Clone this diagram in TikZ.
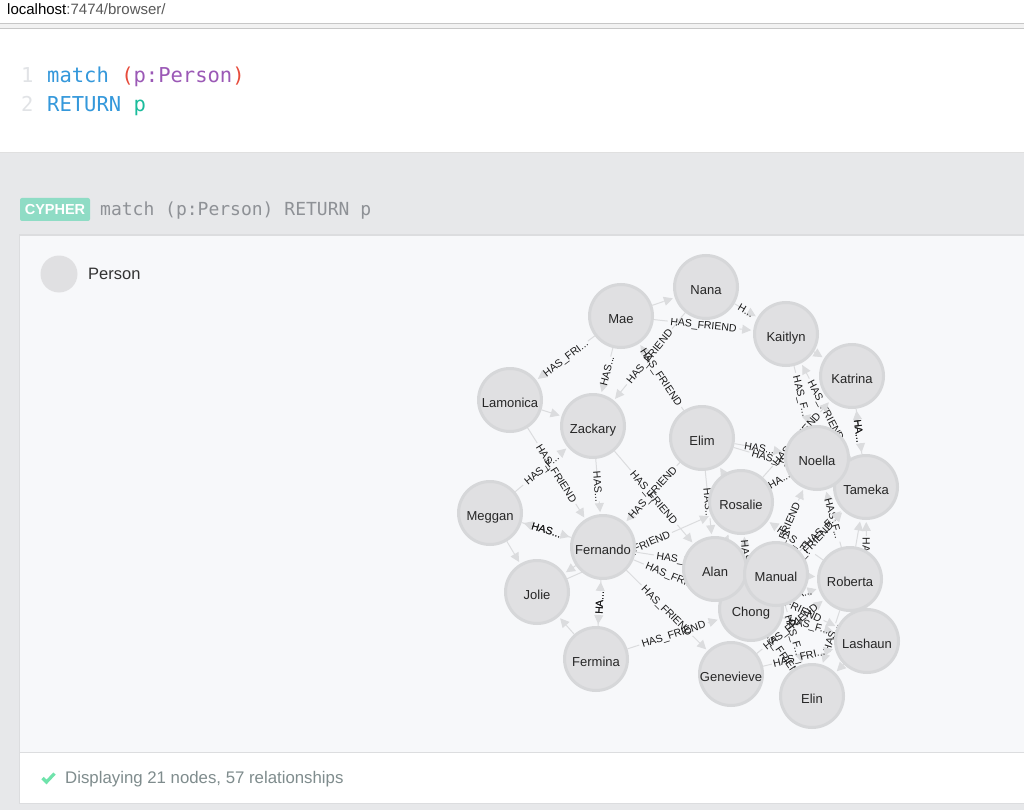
\documentclass[tikz,border=0pt]{standalone}
\usepackage{fontspec}
\setmainfont{Liberation Sans}
\newfontfamily\codefont{DejaVu Sans Mono}
\usetikzlibrary{arrows.meta,backgrounds,calc}

\definecolor{pagegrey}{HTML}{E7E8EA}
\definecolor{panelbg}{HTML}{F7F8FA}
\definecolor{rimgrey}{HTML}{DCDDDF}
\definecolor{personfill}{HTML}{E0E0E2}
\definecolor{personrim}{HTML}{D6D7D9}
\definecolor{relgrey}{HTML}{DBDCDE}
\definecolor{kwblue}{HTML}{3498DB}
\definecolor{kwred}{HTML}{E74C3C}
\definecolor{kwpurple}{HTML}{9B59B6}
\definecolor{kwteal}{HTML}{1ABC9C}
\definecolor{linenum}{HTML}{E1E3E6}
\definecolor{cyphergreen}{HTML}{8FDCC5}
\definecolor{cyphertext}{HTML}{8E9196}
\definecolor{footertext}{HTML}{7F8C8D}
\definecolor{checkgreen}{HTML}{6FE3AB}

\tikzset{
  person/.style={circle, draw=personrim, fill=personfill, line width=3pt, minimum size=63pt,
    inner sep=0pt, text=black!85, font=\fontsize{13}{15}\selectfont},
  relline/.style={draw=relgrey, line width=1pt},
  relarrow/.style={relline, -{Triangle[length=9pt,width=9pt]}, shorten >=2pt},
  rellabel/.style={sloped, inner sep=0pt, text height=7.5pt, text depth=0pt, text=black!90,
    font=\fontsize{10.5}{12}\selectfont},
  codeline/.style={anchor=base west, inner sep=0pt, font=\codefont\fontsize{20.5}{24}\selectfont},
  uitext/.style={anchor=base west, inner sep=0pt}
}

\newcommand{\relfull}{HAS\_FRIEND}
\newcommand{\relfri}{HAS\_FRI...}
\newcommand{\relf}{HAS\_F...}
\newcommand{\relhas}{HAS...}
\newcommand{\relha}{HA...}
\newcommand{\relh}{H...}

\begin{document}
\begin{tikzpicture}[x=1pt,y=-1pt]
  \useasboundingbox (0,0) rectangle (1024,810);

  % Seite
  \begin{scope}[on background layer]
    \fill[pagegrey] (0,0) rectangle (1024,810);
    \fill[white] (0,0) rectangle (1024,23);
    \fill[black!5] (0,23) rectangle (1024,28);
    \fill[white] (0,29) rectangle (1024,152);
    \draw[black!22, line width=0.8pt] (0,23.5) -- (1024,23.5);
    \draw[black!22, line width=0.8pt] (0,28.5) -- (1024,28.5);
    \draw[black!12, line width=1.5pt] (0,152.5) -- (1024,152.5);
    \fill[rimgrey] (19,234) rectangle (1024,804);
    \fill[panelbg] (20,236) rectangle (1024,752);
    \fill[white] (20,753) rectangle (1024,803);
    \fill[cyphergreen, rounded corners=2pt] (20,198) rectangle (90,221);
    \fill[personfill] (59,274) circle (18.5);
    \draw[checkgreen, line width=3.2pt] (42.5,778) -- (46.5,782) -- (54.5,773.5);
  \end{scope}

  \node[uitext, font=\fontsize{15}{18}\selectfont] (urltext) at (7,15) {localhost\textcolor{black!65}{:7474/browser/}};
  \node[codeline, text=linenum] (numone) at (21,83) {1};
  \node[codeline, text=linenum] (numtwo) at (21,112) {2};
  \node[codeline] (queryone) at (47,83) {\textcolor{kwblue}{match} \textcolor{kwred}{(}\textcolor{kwpurple}{p:Person}\textcolor{kwred}{)}};
  \node[codeline] (querytwo) at (47,112) {\textcolor{kwblue}{RETURN} \textcolor{kwteal}{p}};
  \node[text=white, inner sep=0pt, font=\bfseries\fontsize{14.5}{16}\selectfont] (cypherbadge) at (55,209.5) {CYPHER};
  \node[uitext, text=cyphertext, font=\codefont\fontsize{18}{20}\selectfont] (cypherquery) at (100,215) {match (p:Person) RETURN p};
  \node[uitext, text=black!80, font=\fontsize{16.5}{19}\selectfont] (legend) at (88,279) {Person};
  \node[uitext, text=footertext, font=\fontsize{16.8}{20}\selectfont] (footer) at (65,783) {Displaying 21 nodes, 57 relationships};

  % Knoten
  \foreach \name/\px/\py in {Nana/706/287, Mae/621/316, Kaitlyn/786/334, Katrina/852/376,
      Lamonica/510/400, Zackary/593/426, Elim/702/438, Tameka/866/487, Noella/817/458,
      Rosalie/741/502, Meggan/490/513, Fernando/603/547, Jolie/537/592, Chong/751/609,
      Alan/715/569, Manual/776/574, Roberta/850/579, Lashaun/867/641, Fermina/596/659,
      Genevieve/731/674, Elin/812/696}
    \node[person] (\name) at (\px,\py) {\raisebox{-7pt}[0pt][0pt]{\name}};

  % Kanten
  \begin{scope}[on background layer]
    \foreach \src/\dst/\gap/\lab [count=\i] in {
        Mae/Nana/0/{}, Mae/Kaitlyn/36/\relfull, Nana/Kaitlyn/6/\relh, Mae/Lamonica/28/\relfri,
        Mae/Zackary/15/\relhas, Nana/Zackary/36/\relfull, Elim/Mae/36/\relfull,
        Lamonica/Zackary/0/{}, Lamonica/Fernando/36/\relfull, Meggan/Zackary/24/\relf,
        Zackary/Fernando/15/\relhas, Zackary/Alan/36/\relfull, Elim/Fernando/36/\relfull,
        Elim/Alan/15/\relhas, Elim/Noella/15/\relhas, Rosalie/Elim/0/{}, Elim/Tameka/36/\relfull,
        Noella/Rosalie/12/\relha, Kaitlyn/Katrina/0/{}, Kaitlyn/Noella/24/\relf,
        Tameka/Kaitlyn/36/\relfull, Rosalie/Katrina/36/\relfull, Katrina/Tameka/12/\relha,
        Tameka/Katrina/12/\relha, Roberta/Noella/24/\relf, Roberta/Tameka/0/{},
        Lashaun/Tameka/28/\relfri, Chong/Noella/36/\relfull, Jolie/Rosalie/36/\relfull,
        Fernando/Jolie/0/{}, Meggan/Jolie/0/{}, Meggan/Fernando/15/\relhas,
        Fernando/Meggan/15/\relhas, Fermina/Fernando/12/\relha, Fernando/Fermina/12/\relha,
        Fermina/Jolie/0/{}, Fermina/Chong/36/\relfull, Fernando/Genevieve/36/\relfull,
        Fernando/Manual/36/\relfull, Fernando/Chong/36/\relfull, Chong/Rosalie/15/\relhas,
        Alan/Rosalie/0/{}, Roberta/Rosalie/24/\relf, Manual/Tameka/24/\relf,
        Chong/Tameka/36/\relfull, Manual/Roberta/0/{}, Chong/Roberta/12/\relha,
        Genevieve/Roberta/36/\relfull, Alan/Lashaun/36/\relfull, Chong/Lashaun/24/\relf,
        Roberta/Elin/15/\relhas, Lashaun/Elin/0/{}, Manual/Elin/24/\relf,
        Genevieve/Lashaun/28/\relfri, Chong/Elin/36/\relfull} {
      \draw[relline] (\src) -- ($(\src)!.5!(\dst)!\gap pt!(\src)$);
      \draw[relarrow] ($(\src)!.5!(\dst)!\gap pt!(\dst)$) -- (\dst);
      \ifnum\gap>0
        \path (\src) -- node[rellabel] (rel\i) {\lab} (\dst);
      \fi
    }
  \end{scope}

\end{tikzpicture}
\end{document}
